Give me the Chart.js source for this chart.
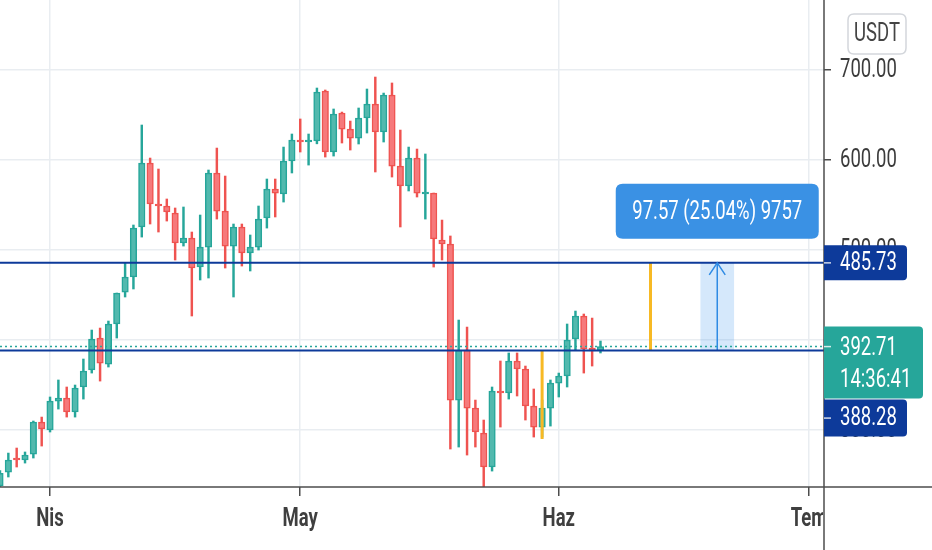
<!DOCTYPE html>
<html lang="tr">
<head>
<meta charset="UTF-8">
<title>BNB/USDT</title>
<style>
html, body { margin: 0; padding: 0; background: #fff; }
#chart { display: block; }
</style>
</head>
<body>
<canvas id="chart" width="932" height="550"></canvas>
<script src="https://cdn.jsdelivr.net/npm/chart.js@4.4.1/dist/chart.umd.min.js"></script>
<script>
// daily candles, x = days from 1 April
const firstDay = -6;
const opens  = [238, 253.3, 268.9, 266.7, 273.3, 308.9, 300, 332.2, 335.6, 320, 347.8, 366.7, 402.2, 373.3, 417.8, 453.3, 470, 525.6, 596.7, 551.1, 548.9, 541.1, 507.8, 513.3, 481.1, 503.3, 585.6, 543.3, 504.4, 525.6, 496.7, 503.3, 535.6, 567.8, 562.2, 598.9, 622.2, 620, 621.1, 676.7, 608.9, 652.2, 634.4, 624.4, 646.7, 662.2, 631.1, 672.2, 593.3, 571.1, 602.2, 562.2, 563.3, 511.1, 506.7, 333.3, 388.9, 324.4, 296.7, 258.9, 343.3, 341.1, 376.7, 367.8, 326.7, 303.3, 324.4, 352.2, 360, 401.1, 426.7, 391.1, 388.3];
const highs  = [255, 274.4, 280, 275.6, 310, 314.4, 336.7, 355.6, 347.8, 350, 378.9, 411.1, 413.3, 421.1, 452.2, 485.6, 527.8, 638.9, 602.2, 590, 556.7, 546.7, 547.8, 520, 538.9, 588.9, 613.3, 582.2, 528.9, 528.9, 516.7, 548.9, 578.9, 578.9, 614.4, 628.9, 645.6, 628.9, 680, 677.8, 656.7, 653.3, 643.3, 657.8, 678.9, 692.2, 674.4, 685.6, 633.3, 614.4, 612.2, 606.7, 563.3, 533.3, 515.6, 422.2, 414.4, 333.3, 311.1, 347.8, 376.7, 385.6, 385.6, 371.1, 345.6, 333.3, 355.6, 363.3, 417.8, 432.2, 428.9, 424.4, 398.9];
const lows   = [234, 247.8, 258.9, 263.3, 268.9, 282.2, 297.8, 323.3, 314.4, 314.4, 334.4, 363.3, 354.4, 370, 402.2, 447.8, 456.7, 514.4, 528.9, 520, 532.2, 488.9, 504.4, 426.7, 466.7, 468.9, 534.4, 480, 447.8, 482.2, 476.7, 500, 524.4, 536.7, 553.3, 585.6, 608.9, 594.4, 618, 603.3, 604.4, 618.9, 611.1, 617.8, 630, 586.7, 620, 581.1, 525.6, 565.6, 558.9, 534.4, 481.1, 488.9, 278.9, 281.1, 272.2, 281.1, 236, 254.4, 303.3, 334.4, 337.8, 311.1, 292.2, 292.2, 304.4, 336.7, 347.8, 388.9, 363.3, 371.1, 385.6];
const closes = [252, 266.7, 266.7, 272.2, 308.9, 301.1, 332.2, 335.6, 320, 346.7, 365.6, 401.1, 374.4, 417.8, 452.2, 470, 524.4, 596.7, 551.1, 548.9, 542.2, 507.8, 513.3, 480, 503.3, 585.6, 543.3, 504.4, 525.6, 496.7, 503.3, 534.4, 567.8, 563.3, 598.9, 622.2, 620, 621.1, 675.6, 608.9, 651.1, 634.4, 624.4, 646.7, 662.2, 631.1, 672.2, 593.3, 571.1, 602.2, 563.3, 563.3, 512.2, 506.7, 333.3, 388.9, 324.4, 297.8, 258.9, 343.3, 341.1, 376.7, 367.8, 326.7, 303.3, 324.4, 352.2, 360, 400, 426.7, 390, 387.8, 392.71];

const monthTicks  = [0, 30, 61, 91];
const monthLabels = ['Nis', 'May', 'Haz', 'Tem'];
const priceTicks  = [300, 400, 500, 600, 700];
const xRange = [-6, 92.8];
const yRange = [236.7, 777.8];

// drawings on the chart
const levelLines = [485.73, 388.28];
const lastPrice = 392.71;
const countdown = '14:36:41';
const markDays = [59, 72];
const markLow  = [290, 388.28];
const markHigh = [388.28, 485.73];
const rangeDay = 80;
const rangeText = '97.57 (25.04%) 9757';

const UP = '#26a69a', UP_FILL = '#52b9ae';
const DOWN = '#ef5350', DOWN_FILL = '#f6797b';
const LEVEL = '#0d3a9a';
const FONT = 'Roboto, "Noto Sans", sans-serif';

const days = opens.map((_, i) => firstDay + i);
const isUp = closes.map((c, i) => c >= opens[i]);

function hline(v) { return [{x: xRange[0], y: v}, {x: xRange[1], y: v}]; }

function roundRect(ctx, x, y, w, h, r) {
  ctx.beginPath();
  ctx.moveTo(x + r[0], y);
  ctx.lineTo(x + w - r[1], y);
  ctx.quadraticCurveTo(x + w, y, x + w, y + r[1]);
  ctx.lineTo(x + w, y + h - r[2]);
  ctx.quadraticCurveTo(x + w, y + h, x + w - r[2], y + h);
  ctx.lineTo(x + r[3], y + h);
  ctx.quadraticCurveTo(x, y + h, x, y + h - r[3]);
  ctx.lineTo(x, y + r[0]);
  ctx.quadraticCurveTo(x, y, x + r[0], y);
  ctx.closePath();
}

// narrow text like the screenshot
function label(ctx, s, x, y, color, align, weight) {
  ctx.save();
  ctx.translate(x, y);
  ctx.scale(0.74, 1);
  ctx.font = (weight || 'normal') + ' 25px ' + FONT;
  ctx.fillStyle = color;
  ctx.textAlign = align || 'left';
  ctx.textBaseline = 'middle';
  ctx.fillText(s, 0, 1);
  ctx.restore();
}

const overlay = {
  id: 'overlay',
  afterDatasetsDraw(chart) {
    const {ctx, scales: {x, y}} = chart;
    // arrow head of the range tool
    const ax = x.getPixelForValue(rangeDay), ay = y.getPixelForValue(markHigh[1]);
    ctx.save();
    ctx.strokeStyle = '#2f8be4';
    ctx.lineWidth = 1.5;
    ctx.beginPath();
    ctx.moveTo(ax - 8, ay + 12);
    ctx.lineTo(ax, ay);
    ctx.lineTo(ax + 8, ay + 12);
    ctx.stroke();
    // range label
    const bw = 203, bh = 55, bx = ax - bw / 2, by = ay - 79;
    ctx.fillStyle = '#3a91e4';
    roundRect(ctx, bx, by, bw, bh, [7, 7, 7, 7]);
    ctx.fill();
    ctx.restore();
    label(ctx, rangeText, ax, by + bh / 2, '#fff', 'center');
  },
  afterDraw(chart) {
    const {ctx, chartArea: a, scales: {x, y}} = chart;
    const W = chart.width, H = chart.height;
    ctx.save();
    ctx.strokeStyle = '#4d4d4d';
    ctx.lineWidth = 1.5;
    ctx.beginPath();
    ctx.moveTo(a.right, 0); ctx.lineTo(a.right, H);
    ctx.moveTo(0, a.bottom); ctx.lineTo(W, a.bottom);
    ctx.stroke();
    ctx.restore();

    priceTicks.forEach(v => label(ctx, v.toFixed(2), a.right + 16, y.getPixelForValue(v), '#3b3b3b'));

    ctx.save();
    ctx.beginPath();
    ctx.rect(0, a.bottom, a.right - 1, H - a.bottom);
    ctx.clip();
    monthTicks.forEach((v, i) => label(ctx, monthLabels[i], x.getPixelForValue(v), a.bottom + 32, '#3f3f3f', 'center', 'bold'));
    ctx.restore();

    // price boxes on the axis
    const box = (top, h, w, color, lines, tickY) => {
      ctx.save();
      ctx.fillStyle = color;
      roundRect(ctx, a.right, top, w, h, [0, 4, 4, 0]);
      ctx.fill();
      ctx.strokeStyle = 'rgba(255,255,255,0.8)';
      ctx.lineWidth = 1.5;
      ctx.beginPath();
      ctx.moveTo(a.right, tickY); ctx.lineTo(a.right + 7, tickY);
      ctx.stroke();
      ctx.restore();
      lines.forEach(l => label(ctx, l[0], a.right + 16, l[1], '#fff'));
    };
    const yTop = y.getPixelForValue(levelLines[0]);
    box(yTop - 17.5, 35, 83, LEVEL, [[levelLines[0].toFixed(2), yTop]], yTop);
    const yLast = y.getPixelForValue(lastPrice);
    const gTop = yLast - 20;
    box(gTop, 72, 99, UP, [[lastPrice.toFixed(2), yLast + 1], [countdown, yLast + 33]], yLast);
    const lTop = gTop + 73;
    box(lTop, 37, 83, LEVEL, [[levelLines[1].toFixed(2), lTop + 18.5]], lTop + 18.5);

    // currency tag
    ctx.save();
    ctx.fillStyle = '#fff';
    ctx.strokeStyle = '#d3d6db';
    ctx.lineWidth = 1.5;
    roundRect(ctx, 848, 14, 58, 40, [6, 6, 6, 6]);
    ctx.fill();
    ctx.stroke();
    ctx.restore();
    label(ctx, 'USDT', 877, 34, '#444', 'center');
  }
};

new Chart(document.getElementById('chart'), {
  type: 'bar',
  data: {
    datasets: [
      ...levelLines.map(v => ({
        type: 'line', data: hline(v), borderColor: LEVEL, borderWidth: 2,
        pointRadius: 0, order: 0
      })),
      {
        type: 'line', data: hline(lastPrice), borderColor: UP, borderWidth: 1.5,
        borderDash: [2, 3], pointRadius: 0, order: 1
      },
      ...markDays.map((d, i) => ({
        type: 'line', data: [{x: d, y: markLow[i]}, {x: d, y: markHigh[i]}],
        borderColor: '#f7b924', borderWidth: 3, pointRadius: 0, order: 0
      })),
      {
        type: 'line', data: [{x: rangeDay, y: markLow[1]}, {x: rangeDay, y: markHigh[1]}],
        borderColor: '#2f8be4', borderWidth: 1.5, pointRadius: 0, order: 0
      },
      {
        data: [{x: rangeDay, y: [markLow[1], markHigh[1]]}],
        backgroundColor: 'rgba(66,150,235,0.22)', barThickness: 33, grouped: false, order: 4
      },
      {
        data: days.map((d, i) => ({x: d, y: [opens[i], closes[i]]})),
        backgroundColor: isUp.map(u => u ? UP_FILL : DOWN_FILL),
        borderColor: isUp.map(u => u ? UP : DOWN),
        borderWidth: 1.5, borderSkipped: false, barThickness: 6.5, minBarLength: 2,
        grouped: false, order: 2
      },
      {
        data: days.map((d, i) => ({x: d, y: [lows[i], highs[i]]})),
        backgroundColor: isUp.map(u => u ? UP : DOWN),
        barThickness: 1.8, grouped: false, order: 3
      }
    ]
  },
  options: {
    responsive: false,
    animation: false,
    layout: { padding: 0 },
    plugins: { legend: { display: false }, tooltip: { enabled: false } },
    scales: {
      x: {
        type: 'linear', min: xRange[0], max: xRange[1], offset: false,
        grid: { color: '#e9edf1', lineWidth: 1.5, tickColor: '#4d4d4d', tickLength: 9, offset: false },
        border: { display: false },
        ticks: { display: false },
        afterBuildTicks: s => { s.ticks = monthTicks.map(v => ({value: v})); },
        afterFit: s => { s.height = 63; }
      },
      y: {
        position: 'right', min: yRange[0], max: yRange[1],
        grid: { color: '#e9edf1', lineWidth: 1.5, tickColor: '#4d4d4d', tickLength: 7 },
        border: { display: false },
        ticks: { display: false },
        afterBuildTicks: s => { s.ticks = priceTicks.map(v => ({value: v})); },
        afterFit: s => { s.width = 108; }
      }
    }
  },
  plugins: [overlay]
});
</script>
</body>
</html>
